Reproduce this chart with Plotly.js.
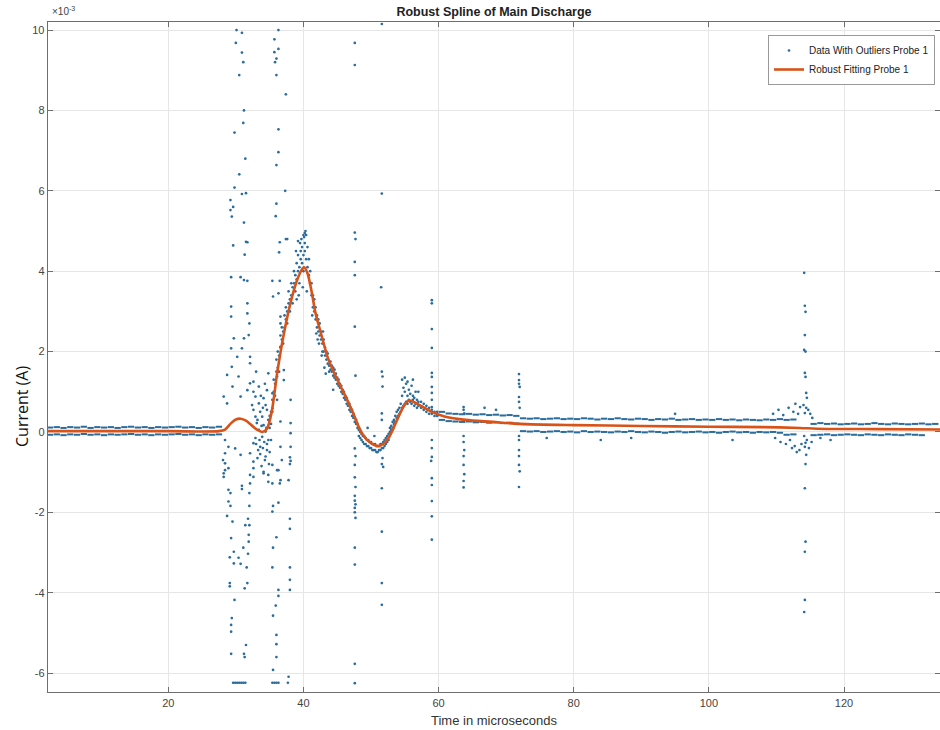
<!DOCTYPE html>
<html>
<head>
<meta charset="utf-8">
<script src="https://cdn.plot.ly/plotly-3.0.1.min.js"></script>
<style>html,body{margin:0;padding:0;background:#fff;}#chart{width:940px;height:730px;}</style>
</head>
<body>
<div id="chart"></div>
<script>
// ---- values (current in units of 1e-3 A, time in microseconds) ----
// Dense baseline rows of samples in the quiet parts of the record
const flatX = [2.5,3.5,4.5,5.5,6.5,7.5,8.5,9.5,10.5,11.5,12.5,13.5,14.5,15.5,16.5,17.5,18.5,19.5,20.5,21.5,22.5,23.5,24.5,25.5,26.5,27.5,
  60.5,61.5,62.5,63.5,64.5,65.5,66.5,67.5,68.5,69.5,70.5,71.5,
  72.5,73.5,74.5,75.5,76.5,77.5,78.5,79.5,80.5,81.5,82.5,83.5,84.5,85.5,86.5,87.5,88.5,89.5,90.5,91.5,92.5,93.5,94.5,95.5,96.5,97.5,98.5,99.5,100.5,101.5,102.5,103.5,104.5,105.5,106.5,107.5,108.5,109.5,110.5,111.5,112.5,
  115.5,116.5,117.5,118.5,119.5,120.5,121.5,122.5,123.5,124.5,125.5,126.5,127.5,128.5,129.5,130.5,131.5,132.5,133.5];
const flatHi = [0.11,0.12,0.1,0.12,0.11,0.13,0.1,0.12,0.11,0.12,0.1,0.12,0.13,0.11,0.12,0.1,0.12,0.11,0.12,0.13,0.11,0.12,0.1,0.12,0.11,0.13,
  0.5,0.46,0.45,0.44,0.45,0.43,0.44,0.42,0.43,0.41,0.42,0.4,
  0.34,0.33,0.34,0.32,0.33,0.34,0.32,0.33,0.32,0.34,0.33,0.31,0.33,0.32,0.34,0.32,0.31,0.33,0.32,0.3,0.32,0.31,0.33,0.3,0.31,0.32,0.3,0.31,0.3,0.32,0.3,0.31,0.29,0.31,0.3,0.29,0.31,0.3,0.32,0.3,0.31,
  0.2,0.22,0.2,0.21,0.19,0.2,0.21,0.19,0.2,0.22,0.2,0.19,0.21,0.2,0.19,0.2,0.21,0.19,0.2];
const flatLo = [-0.07,-0.06,-0.08,-0.06,-0.07,-0.05,-0.07,-0.06,-0.08,-0.06,-0.07,-0.06,-0.05,-0.07,-0.06,-0.08,-0.06,-0.07,-0.06,-0.05,-0.07,-0.06,-0.08,-0.06,-0.07,-0.06,
  0.3,0.27,0.26,0.25,0.26,0.24,0.25,0.23,0.24,0.22,0.23,0.21,
  0.02,0.01,0.02,0.0,0.01,0.02,0.0,0.01,-0.01,0.02,0.0,0.01,0.0,-0.01,0.01,0.0,0.02,0.0,-0.01,0.01,0.0,-0.02,0.0,0.01,-0.01,0.0,0.01,-0.01,0.0,-0.02,0.0,0.01,-0.01,0.0,-0.02,0.0,-0.01,0.0,-0.02,
  -0.07,-0.06,-0.08,-0.07,-0.06,-0.08,-0.07,-0.06,-0.07,-0.08,-0.06,-0.07,-0.08,-0.06,-0.07,-0.08,-0.06,-0.07,-0.08];

// Large positive outliers during the breakdown
const highOutliers = [[30.1,10.0],[30.9,9.93],[30.0,9.68],[30.9,9.44],[31.1,9.2],[30.5,8.88],[31.2,8.0],[31.1,7.69],[29.8,7.45],[31.4,6.8],
  [30.5,6.41],[29.8,6.08],[30.9,5.92],[31.5,5.94],[29.2,5.77],[29.6,5.6],[29.2,5.52],[29.4,5.36],[31.2,5.21],
  [36.3,10.0],[35.7,9.77],[36.3,9.53],[35.7,9.45],[36.0,9.29],[35.8,9.2],[36.0,8.88],[37.4,8.4],[36.3,7.53],[36.3,6.96],
  [36.0,6.64],[37.3,6.0],[36.0,5.68],[35.9,5.37],[31.5,4.73],[29.6,4.64],[31.7,4.72],[31.3,4.41],[36.5,4.72],[37.4,4.8],[37.6,4.8],[36.4,4.47]];

// Large negative outliers during the breakdown
const lowOutliers = [[28.1,-0.7],[28.4,-0.78],[28.2,-1.03],[28.9,-1.44],[29.2,-1.52],[28.9,-1.73],[29.2,-1.84],[28.7,-2.09],[29.5,-2.23],[29.3,-2.64],
  [29.7,-2.98],[29.1,-3.12],[29.7,-3.27],[29.1,-3.76],[29.1,-3.84],[29.8,-4.18],[29.4,-4.63],[29.3,-4.8],[29.3,-4.97],[29.3,-5.52],
  [29.6,-6.24],[29.9,-6.24],[30.2,-6.24],[30.5,-6.24],[30.8,-6.24],[31.1,-6.24],[31.4,-6.24],
  [30.9,-1.34],[30.9,-1.42],[32.0,-1.52],[32.0,-1.84],[31.8,-2.16],[31.4,-2.32],[32.0,-2.32],[31.9,-2.56],[31.9,-2.73],[31.1,-2.88],
  [31.8,-3.03],[30.4,-3.13],[30.7,-3.28],[31.6,-3.37],[31.7,-3.76],[31.3,-3.89],[31.5,-5.3],[31.2,-5.52],[31.3,-5.6],
  [35.4,-1.28],[34.8,-1.24],[36.5,-1.28],[36.3,-1.76],[35.5,-1.84],[35.4,-1.98],[36.0,-2.62],[35.5,-2.88],[35.4,-3.37],[36.3,-3.93],
  [36.3,-4.08],[35.9,-4.32],[35.5,-4.57],[36.0,-5.05],[36.0,-5.28],[36.0,-5.6],[35.5,-5.92],
  [35.4,-6.24],[35.7,-6.24],[36.0,-6.24],[36.3,-6.24],
  [38.0,-0.63],[38.0,-0.8],[37.8,-1.2],[38.0,-2.16],[38.0,-2.41],[38.0,-3.37],[38.0,-3.68],[38.0,-3.93],[37.8,-6.09],[37.7,-6.24],
  [32.1,-1.28],[32.6,-1.12],[34.1,-1.03],[34.8,-1.07],[36.3,-0.95],[36.6,-1.2],
  [28.4,-0.53],[30.7,-0.57],[32.1,-0.53],[34.4,-0.61],[28.9,-0.9],[32.6,-0.74],[35.4,-0.82],[36.8,-0.7],[38.1,-0.72],[28.4,-0.95],
  [32.6,-0.9],[34.1,-0.99],[36.1,-0.95],[28.2,-1.12],[32.1,-1.07],
  [33.0,-0.3],[33.3,-0.45],[33.6,-0.55],[34.0,-0.4],[34.3,-0.7],[34.6,-0.3],[35.0,-0.5],[33.8,-0.85],[33.2,-0.65],[34.9,-0.8],
  [35.2,-0.2],[33.5,-0.2],[32.9,-0.15],[34.2,-0.25]];

// Moderate scatter around the first (pre-peak) region
const midScatter = [[29.3,3.85],[30.7,3.85],[31.2,3.78],[31.7,3.76],[35.4,3.76],[36.5,3.76],[35.5,3.37],[36.3,3.45],[29.3,3.12],[31.7,3.2],
  [29.3,2.87],[31.7,2.95],[32.0,2.7],[36.6,2.87],[36.6,2.7],[29.7,2.33],[31.2,2.33],[31.9,2.41],[29.3,2.08],[30.9,2.08],
  [36.6,2.12],[30.2,1.87],[32.1,1.87],[32.1,1.71],[29.4,1.62],[34.8,1.46],[37.1,1.54],[28.7,1.42],[30.4,1.38],[32.1,1.21],
  [32.6,1.25],[36.1,1.38],[37.1,1.29],[29.5,1.13],[31.7,1.04],[32.6,1.0],[33.4,1.13],[34.6,1.04],[35.4,0.96],[28.2,0.88],
  [30.7,0.88],[32.9,0.88],[34.1,0.84],[36.1,0.8],[38.1,0.8],[28.7,0.71],[32.4,0.67],[33.4,0.71],[34.4,0.67],[32.6,0.55],
  [33.6,0.5],[34.6,0.55],[35.4,0.59],[32.9,0.38],[33.9,0.38],[34.8,0.3],[36.6,0.26],[33.1,0.22],[34.1,0.17],[38.1,0.22],
  [33.4,0.05],[34.4,0.01],[38.1,-0.03],[33.9,-0.12],[34.8,-0.2],[28.4,-0.2],[28.9,-0.37],[29.9,-0.41],[32.6,-0.28],[33.6,-0.37],
  [34.6,-0.45],[36.6,-0.37],[38.1,-0.37],[33.7,0.9],[34.3,1.2],[33.0,1.5],[34.0,0.6],[33.2,0.3],[34.5,0.1],[33.8,0.15]];

// Samples following the main discharge pulse
const pulseCore = [[35.0,0.1],[35.0,0.4],[35.2,0.5],[35.2,0.2],[35.4,0.8],[35.4,0.5],[35.6,1.0],[35.6,1.3],[35.8,1.2],[35.8,0.9],
  [36.0,1.5],[36.0,1.8],[36.2,1.6],[36.2,2.0],[36.4,1.9],[36.4,1.5],[36.6,2.1],[36.6,2.4],[36.8,2.3],[36.8,2.6],
  [37.0,2.5],[37.0,2.2],[37.2,2.6],[37.2,2.9],[37.4,2.8],[37.4,3.1],[37.6,3.0],[37.6,2.7],[37.8,3.2],[37.8,3.5],
  [38.0,3.3],[38.0,3.0],[38.2,3.4],[38.2,3.7],[38.4,3.6],[38.4,3.2],[38.6,3.7],[38.6,4.0],[38.8,3.9],[38.8,3.5],
  [39.0,3.8],[39.0,4.2],[39.2,4.0],[39.2,4.4],[39.4,4.1],[39.4,3.7],[39.6,4.3],[39.6,4.5],[39.8,4.2],[39.8,4.6],
  [40.0,4.4],[40.0,4.0],[40.2,4.5],[40.2,4.7],[40.4,4.3],[40.4,4.9],[40.6,4.1],[40.6,4.6],[40.8,3.9],[40.8,4.3],
  [41.0,3.7],[41.0,4.0],[39.0,3.3],[39.3,3.4],[39.5,4.7],[39.7,4.8],[40.1,4.85],[40.3,5.0],[39.9,3.6],[40.5,3.5],
  [38.9,4.5],[39.2,4.75],[40.2,4.95],[40.0,4.9],
  [41.2,3.4],[41.2,3.7],[41.4,3.1],[41.4,3.4],[41.6,3.0],[41.6,3.3],[41.8,2.8],[41.8,3.1],[42.0,2.6],[42.0,2.9],
  [42.2,2.5],[42.2,2.8],[42.4,2.4],[42.4,2.7],[42.6,2.3],[42.6,2.5],[42.8,2.2],[42.8,2.0],[43.0,2.0],[43.0,2.3],
  [43.2,1.9],[43.2,2.1],[43.4,1.8],[43.4,2.0],[43.6,1.7],[43.6,1.95],[43.8,1.65],[43.8,1.5],[44.0,1.55],[44.0,1.75],
  [44.2,1.5],[44.2,1.65],[44.4,1.4],[44.4,1.6],[44.6,1.35],[44.6,1.55],[44.8,1.3],[44.8,1.45],[45.0,1.2],[45.0,1.35],
  [45.2,1.15],[45.2,1.3],[45.4,1.1],[45.4,1.2],[45.6,1.0],[45.6,1.15],[45.8,0.95],[45.8,1.05],[46.0,0.85],[46.0,1.0],
  [46.2,0.8],[46.2,0.9],[46.4,0.7],[46.4,0.85],[46.6,0.65],[46.6,0.75],[46.8,0.55],[46.8,0.7],[47.0,0.5],[47.0,0.6],
  [47.2,0.4],[47.2,0.55],[47.4,0.35],[47.4,0.45],[47.6,0.25],[47.6,0.35],[47.8,0.2],[47.8,0.3],[48.0,0.1],[48.0,0.2],
  [42.1,2.3],[42.3,2.2],[42.9,2.5],[43.1,1.6],[44.4,1.05],[41.9,2.45],[41.3,2.9],[43.3,1.45],[42.7,1.9],
  [48.2,0.05],[48.2,-0.1],[48.4,0.0],[48.4,-0.15],[48.6,-0.05],[48.6,-0.2],[48.8,-0.1],[48.8,-0.25],[49.0,-0.1],[49.0,-0.3],
  [49.2,-0.15],[49.2,-0.3],[49.4,-0.2],[49.4,-0.35],[49.6,-0.2],[49.6,-0.35],[49.8,-0.25],[49.8,-0.4],[50.0,-0.25],[50.0,-0.4],
  [50.2,-0.3],[50.2,-0.45],[50.4,-0.3],[50.4,-0.45],[50.6,-0.3],[50.6,-0.45],[50.8,-0.35],[50.8,-0.5],[51.0,-0.35],[51.0,-0.5],
  [51.2,-0.35],[51.2,-0.45],[51.4,-0.3],[51.4,-0.45],[51.6,-0.3],[51.6,-0.4],[51.8,-0.25],[51.8,-0.4],[52.0,-0.2],[52.0,-0.35],
  [52.2,-0.15],[52.2,-0.3],[52.4,-0.1],[52.4,-0.25],[52.6,-0.05],[52.6,-0.2],[52.8,0.0],[52.8,0.1],[53.0,0.05],[53.0,0.15],
  [53.2,0.1],[53.2,0.25],[53.4,0.2],[53.4,0.3],[53.6,0.25],[53.6,0.4],[53.8,0.35],[53.8,0.5],[54.0,0.4],[54.0,0.55],
  [54.2,0.45],[54.2,0.6],[54.4,0.5],[54.4,0.7],[54.6,0.6],[54.6,0.9],[54.8,0.65],[54.8,1.1],[55.0,0.7],[55.0,1.0],
  [55.2,0.75],[55.2,1.2],[55.4,0.7],[55.4,0.9],[55.6,0.8],[55.6,1.05],[55.8,0.75],[55.8,0.95],[56.0,0.7],[56.0,1.15],
  [56.2,0.8],[56.2,0.9],[56.4,0.65],[56.4,0.85],[56.6,0.7],[56.6,1.0],[56.8,0.6],[56.8,0.8],[57.0,0.65],[57.0,0.75],
  [57.4,0.6],[57.4,0.75],[57.8,0.55],[57.8,0.7],[58.2,0.5],[58.2,0.65],[58.6,0.45],[58.6,0.6],[59.0,0.45],[59.0,0.55],
  [59.4,0.4],[59.4,0.5],[59.8,0.4],[59.8,0.5],
  [54.6,1.3],[55.0,1.35],[55.4,1.25],[56.2,1.3],[57.0,1.0],[49.5,0.1],[50.5,-0.1]];

// Vertical spikes of outliers at later times
const spikeColumns = [[47.6,9.68],[47.6,9.13],[47.6,4.96],[47.7,4.8],[47.6,4.23],[47.6,3.9],[47.6,2.62],[47.7,1.4],
  [47.6,-0.41],[47.7,-0.6],[47.6,-0.82],[47.6,-1.13],[47.7,-1.37],[47.6,-1.59],[47.6,-1.71],[47.7,-1.8],[47.6,-1.89],[47.6,-2.0],
  [47.7,-2.14],[47.6,-2.88],[47.6,-3.3],[47.6,-5.77],[47.6,-6.25],
  [51.6,10.15],[51.6,5.93],[51.5,3.6],[51.6,1.5],[51.7,1.38],[51.7,1.13],[51.6,0.46],[51.6,0.3],
  [51.7,-0.65],[51.6,-0.8],[51.8,-0.87],[51.6,-1.4],[51.6,-2.48],[51.6,-3.76],[51.6,-4.3],
  [59.0,3.28],[59.0,3.2],[59.0,2.56],[59.0,2.09],[59.0,1.47],[59.0,1.37],[59.0,1.12],[59.0,0.97],[59.0,0.8],[59.0,0.62],
  [59.0,-0.2],[59.0,-0.4],[59.0,-0.62],[58.9,-0.72],[59.0,-1.15],[59.0,-1.32],[59.0,-1.72],[59.0,-2.1],[59.0,-2.68],
  [63.7,0.62],[63.7,0.55],[63.8,0.46],[63.7,-0.1],[63.7,-0.25],[63.8,-0.45],[63.7,-0.6],[63.7,-0.82],[63.8,-1.05],[63.7,-1.22],[63.7,-1.38],
  [71.9,1.44],[71.9,1.29],[71.9,1.2],[72.0,1.12],[71.9,0.87],[71.9,0.75],[72.0,0.6],
  [71.9,-0.1],[71.9,-0.2],[71.9,-0.45],[71.9,-0.6],[71.9,-0.82],[72.0,-0.98],[71.9,-1.37],
  [114.1,3.96],[114.2,3.14],[114.3,2.99],[114.2,2.41],[114.1,2.04],[114.3,2.0],[114.2,1.47],[114.3,1.37],[114.4,0.97],[114.5,0.85],
  [114.0,0.67],[114.4,0.6],[114.7,0.55],[114.2,0.47],
  [114.1,-0.1],[114.5,-0.2],[114.3,-0.27],[114.2,-0.37],[114.4,-0.57],[114.3,-0.8],[114.2,-1.4],[114.3,-2.73],[114.2,-2.98],[114.2,-4.18],[114.1,-4.48]];

// Small noise bursts near the second event
const burstNoise = [[109.5,0.45],[110.3,0.55],[111.0,0.42],[111.8,0.6],[112.5,0.5],[112.8,0.7],[113.2,0.45],[113.5,0.62],[115.0,0.45],[115.3,0.35],
  [109.8,-0.15],[110.6,-0.25],[111.4,-0.3],[112.0,-0.2],[112.3,-0.4],[112.7,-0.35],[113.0,-0.5],[113.4,-0.45],[113.7,-0.3],[114.8,-0.4],
  [115.2,-0.25],[116.5,-0.15],[118.0,-0.2],[66.8,0.6],[68.5,0.55],[76.0,-0.15],[84.0,-0.2],[88.5,-0.15],[95.0,0.45],[103.5,-0.2]];

// Robust spline fit
const fitX = [2.2,10,20,27.5,28.4,29.3,30.0,30.7,31.5,32.3,33.1,33.9,34.6,35.3,36.1,37.0,38.0,39.0,39.7,40.1,40.6,41.2,41.8,42.6,43.6,44.6,45.6,46.6,47.4,48.2,49.0,50.0,51.0,51.8,52.6,53.4,54.4,55.0,55.6,56.4,57.5,59.0,61.0,64.0,68.0,72.0,80.0,90.0,100.0,108.0,113.5,116.0,125.0,134.2];
const fitY = [0.02,0.02,0.02,0.02,0.06,0.22,0.31,0.33,0.28,0.17,0.06,0.0,0.08,0.5,1.45,2.35,3.15,3.75,4.02,4.1,3.95,3.5,2.95,2.45,1.85,1.45,1.1,0.75,0.45,0.12,-0.12,-0.28,-0.35,-0.3,-0.15,0.12,0.5,0.68,0.78,0.74,0.64,0.5,0.38,0.3,0.25,0.2,0.17,0.15,0.13,0.12,0.1,0.08,0.07,0.06];

const xTicks = [20,40,60,80,100,120];
const yTicks = [-6,-4,-2,0,2,4,6,8,10];

// ---- build traces ----
const BLUE = '#2a6c9c';
const scatterGroups = [highOutliers, lowOutliers, midScatter, pulseCore, spikeColumns, burstNoise];
const sx = [], sy = [];
scatterGroups.forEach(g => g.forEach(p => { sx.push(p[0]); sy.push(p[1]); }));

const traces = [
  {x: sx, y: sy, type: 'scatter', mode: 'markers', name: 'Data With Outliers Probe 1',
   legendgroup: 'data', marker: {color: BLUE, size: 2.7}},
  {x: flatX, y: flatHi, type: 'scatter', mode: 'markers', showlegend: false, legendgroup: 'data', hoverinfo: 'skip',
   marker: {symbol: 'line-ew', size: 4.5, line: {color: BLUE, width: 2}}},
  {x: flatX, y: flatLo, type: 'scatter', mode: 'markers', showlegend: false, legendgroup: 'data', hoverinfo: 'skip',
   marker: {symbol: 'line-ew', size: 4.5, line: {color: BLUE, width: 2}}},
  {x: fitX, y: fitY, type: 'scatter', mode: 'lines', name: 'Robust Fitting Probe 1',
   line: {color: '#D95319', width: 2.6, shape: 'spline', smoothing: 0.8}}
];

const axisCommon = {
  showline: true, mirror: 'ticks', linecolor: '#6e6e6e', linewidth: 1.3,
  ticks: 'inside', ticklen: 5, tickcolor: '#6e6e6e', tickwidth: 1,
  showgrid: true, gridcolor: '#e6e6e6', gridwidth: 1, zeroline: false,
  tickfont: {family: 'Liberation Sans, Arial, sans-serif', size: 11, color: '#444'}
};

const layout = {
  width: 940, height: 730,
  margin: {l: 48, r: 0, t: 22, b: 38},
  paper_bgcolor: '#fff', plot_bgcolor: '#fff',
  font: {family: 'Liberation Sans, Arial, sans-serif', size: 11, color: '#333'},
  title: {text: '<b>Robust Spline of Main Discharge</b>', x: 0.5, xref: 'paper', y: 1 - 12/730, yref: 'container', yanchor: 'middle',
          font: {family: 'Liberation Sans, Arial, sans-serif', size: 12.5, color: '#222'}},
  xaxis: Object.assign({}, axisCommon, {range: [2.2, 134.2], tickvals: xTicks, ticktext: xTicks.map(String)}),
  yaxis: Object.assign({}, axisCommon, {range: [-6.47, 10.2], tickvals: yTicks, ticktext: yTicks.map(String)}),
  showlegend: true,
  legend: {x: 0.9944, y: 0.9806, xanchor: 'right', yanchor: 'top', bgcolor: '#fff', bordercolor: '#999', borderwidth: 1,
           font: {family: 'Liberation Sans, Arial, sans-serif', size: 10, color: '#222'}, itemwidth: 30, tracegroupgap: 0},
  annotations: [
    {text: 'Time in microseconds', xref: 'paper', yref: 'paper', x: 0.5, y: (692-720)/670, xanchor: 'center', yanchor: 'middle',
     showarrow: false, font: {family: 'Liberation Sans, Arial, sans-serif', size: 13, color: '#333'}},
    {text: 'Current (A)', xref: 'paper', yref: 'paper', x: (22-48)/892, y: (692-407)/670, xanchor: 'center', yanchor: 'middle',
     textangle: -90, showarrow: false, font: {family: 'Open Sans, sans-serif', size: 16, color: '#111'}},
    {text: '×10<sup>-3</sup>', xref: 'paper', yref: 'paper', x: 2/892, y: (692-11)/670, xanchor: 'left', yanchor: 'middle',
     showarrow: false, font: {family: 'Liberation Sans, Arial, sans-serif', size: 10, color: '#444'}}
  ]
};

Plotly.newPlot('chart', traces, layout, {displayModeBar: false, staticPlot: true});
</script>
</body>
</html>
